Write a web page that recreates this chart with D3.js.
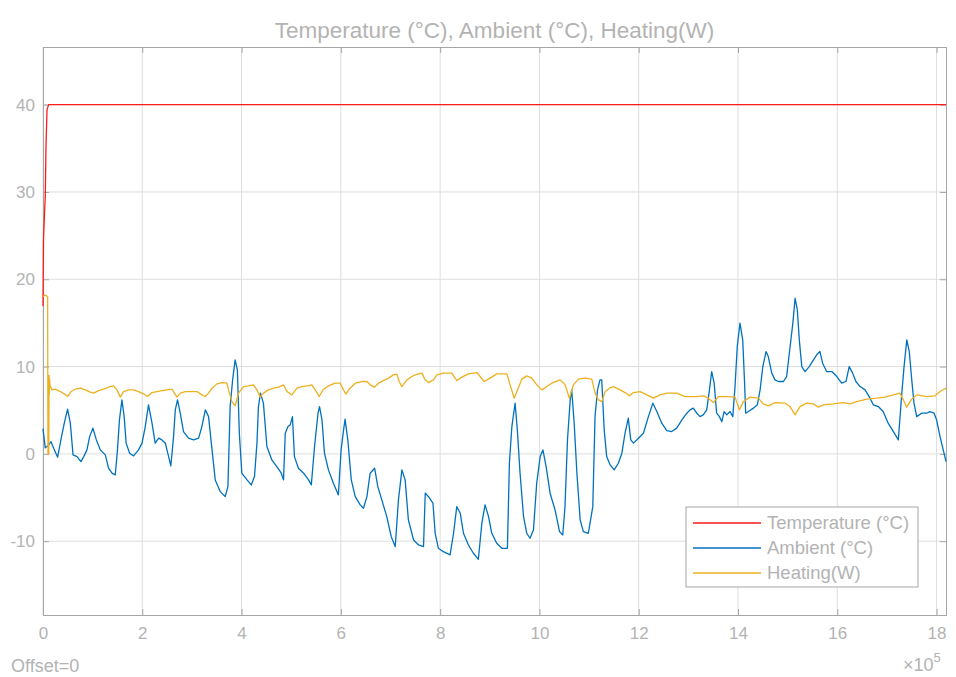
<!DOCTYPE html>
<html>
<head>
<meta charset="utf-8">
<script src="https://cdn.jsdelivr.net/npm/d3@7"></script>
<style>
  body { margin: 0; background: #fff; }
  svg text { font-family: "Liberation Sans", Arial, Helvetica, sans-serif; fill: #b3b3b3; }
</style>
</head>
<body>
<div id="chart"></div>
<script>
// x values are in units of 1e5 (axis shows x10^5)
var seriesNames = ['Temperature (°C)', 'Ambient (°C)', 'Heating(W)'];
var xTicks = [0, 2, 4, 6, 8, 10, 12, 14, 16, 18];
var yTicks = [-10, 0, 10, 20, 30, 40];

var tempT = [0, 0.01, 0.03, 0.046, 0.06, 0.081, 0.113, 18.19];
var tempV = [16.9, 24.5, 27.5, 29.5, 35.2, 39.4, 40, 40];

var ambT = [
  0, 0.045, 0.115, 0.16, 0.215, 0.295, 0.36, 0.43, 0.495, 0.55,
  0.605, 0.685, 0.765, 0.82, 0.885, 0.94, 1.005, 1.075, 1.155, 1.255,
  1.32, 1.39, 1.455, 1.5, 1.54, 1.59, 1.635, 1.675, 1.745, 1.825,
  1.925, 1.995, 2.06, 2.125, 2.195, 2.26, 2.33, 2.395, 2.465, 2.53,
  2.575, 2.63, 2.665, 2.71, 2.765, 2.83, 2.93, 3.035, 3.135, 3.2,
  3.27, 3.335, 3.405, 3.47, 3.57, 3.67, 3.725, 3.77, 3.82, 3.87,
  3.915, 3.955, 4.005, 4.11, 4.195, 4.26, 4.31, 4.34, 4.38, 4.44,
  4.51, 4.61, 4.71, 4.8, 4.845, 4.88, 4.935, 4.98, 5.025, 5.065,
  5.145, 5.25, 5.35, 5.405, 5.47, 5.54, 5.57, 5.62, 5.67, 5.75,
  5.85, 5.95, 6.005, 6.055, 6.085, 6.14, 6.21, 6.29, 6.39, 6.455,
  6.525, 6.59, 6.68, 6.745, 6.825, 6.925, 7.015, 7.095, 7.16, 7.23,
  7.295, 7.36, 7.465, 7.565, 7.665, 7.7, 7.765, 7.855, 7.9, 7.965,
  8.065, 8.2, 8.27, 8.335, 8.405, 8.47, 8.57, 8.67, 8.77, 8.84,
  8.905, 8.975, 9.04, 9.14, 9.245, 9.355, 9.395, 9.445, 9.51, 9.555,
  9.61, 9.68, 9.745, 9.81, 9.88, 9.945, 10.015, 10.07, 10.135, 10.215,
  10.315, 10.405, 10.47, 10.515, 10.565, 10.62, 10.65, 10.7, 10.755, 10.82,
  10.885, 10.985, 11.075, 11.12, 11.17, 11.22, 11.255, 11.305, 11.355, 11.425,
  11.505, 11.59, 11.66, 11.725, 11.79, 11.84, 11.895, 11.995, 12.095, 12.195,
  12.285, 12.365, 12.465, 12.565, 12.665, 12.765, 12.87, 12.97, 13.035, 13.1,
  13.17, 13.235, 13.3, 13.37, 13.425, 13.47, 13.52, 13.57, 13.625, 13.675,
  13.72, 13.775, 13.84, 13.895, 13.94, 13.985, 14.04, 14.095, 14.13, 14.155,
  14.21, 14.31, 14.39, 14.445, 14.5, 14.565, 14.61, 14.68, 14.745, 14.815,
  14.915, 14.98, 15.05, 15.105, 15.15, 15.195, 15.235, 15.285, 15.35, 15.435,
  15.52, 15.585, 15.65, 15.705, 15.785, 15.89, 15.99, 16.09, 16.175, 16.24,
  16.31, 16.375, 16.46, 16.56, 16.66, 16.725, 16.825, 16.925, 17.025, 17.13,
  17.23, 17.3, 17.345, 17.4, 17.45, 17.5, 17.545, 17.6, 17.7, 17.8,
  17.865, 17.95, 18.0, 18.07, 18.15, 18.19
];
var ambV = [
  2.9, 0.69, 1.03, 1.41, 0.65, -0.38, 1.60, 3.55, 5.12, 3.55,
  -0.11, -0.31, -0.88, -0.31, 0.46, 1.98, 2.95, 1.60, 0.46, -0.11,
  -1.64, -2.21, -2.41, 0.46, 3.90, 6.19, 4.27, 1.23, 0.08, -0.23,
  0.46, 1.23, 3.13, 5.62, 3.55, 1.23, 1.80, 1.60, 1.23, -0.31,
  -1.38, 1.98, 5.04, 6.19, 4.66, 2.56, 1.80, 1.60, 1.80, 3.13,
  5.04, 4.27, 0.46, -2.98, -4.32, -4.89, -3.75, 5.42, 8.48, 10.77,
  9.63, 2.37, -2.21, -2.98, -3.55, -2.60, 1.23, 5.42, 6.96, 5.81,
  0.84, -0.69, -1.46, -2.21, -2.98, 2.37, 3.13, 3.32, 4.27, -0.31,
  -1.64, -2.21, -2.98, -3.55, 0.84, 4.66, 5.42, 3.90, 0.08, -1.83,
  -3.36, -4.70, 0.46, 2.75, 3.98, 1.60, -2.98, -4.89, -5.84, -6.22,
  -4.89, -2.21, -1.64, -3.75, -5.27, -7.19, -9.48, -10.62, -5.27, -1.83,
  -2.98, -7.54, -9.86, -10.43, -10.62, -4.50, -4.89, -5.65, -9.09, -10.81,
  -11.20, -11.57, -9.09, -6.04, -6.80, -9.09, -10.43, -11.38, -12.07, -7.94,
  -5.84, -7.19, -9.09, -10.23, -10.81, -10.81, -1.07, 3.13, 5.81, 2.75,
  -2.21, -7.19, -9.09, -9.66, -8.71, -3.36, -0.31, 0.46, -1.46, -4.50,
  -6.42, -8.90, -9.28, -6.04, 1.60, 6.19, 7.33, 3.52, -2.21, -7.54,
  -8.90, -9.09, -6.04, 4.27, 7.33, 8.48, 8.48, 2.75, -0.31, -1.26,
  -1.83, -1.07, 0.08, 2.37, 4.09, 1.60, 1.23, 1.80, 2.37, 4.27,
  5.81, 4.85, 3.52, 2.67, 2.56, 2.95, 3.90, 4.66, 5.04, 5.24,
  4.66, 4.27, 4.47, 5.04, 7.33, 9.43, 8.10, 4.66, 4.27, 3.70,
  4.85, 4.47, 4.85, 4.27, 7.71, 12.30, 14.98, 13.06, 8.48, 4.66,
  4.85, 5.24, 5.62, 7.33, 10.00, 11.72, 11.15, 9.25, 8.48, 8.29,
  8.29, 8.86, 12.30, 14.98, 17.84, 16.50, 13.06, 10.00, 9.43, 10.00,
  10.77, 11.35, 11.72, 10.39, 9.43, 9.43, 8.86, 8.10, 8.29, 10.00,
  9.25, 8.29, 7.71, 7.33, 6.38, 5.62, 5.42, 4.85, 3.52, 2.56,
  1.60, 6.96, 10.00, 13.06, 11.72, 8.48, 5.81, 4.27, 4.66, 4.66,
  4.85, 4.66, 3.90, 1.98, 0.08, -0.88
];

var heatT = [
  0, 0.046, 0.093, 0.10, 0.117, 0.122, 0.127, 0.133, 0.14, 0.181,
  0.248, 0.348, 0.429, 0.495, 0.564, 0.650, 0.751, 0.852, 0.952, 1.019,
  1.120, 1.220, 1.321, 1.422, 1.490, 1.557, 1.623, 1.724, 1.824, 1.925,
  2.026, 2.106, 2.195, 2.296, 2.396, 2.497, 2.598, 2.698, 2.765, 2.865,
  2.966, 3.101, 3.202, 3.268, 3.335, 3.403, 3.504, 3.605, 3.705, 3.737,
  3.806, 3.872, 3.939, 4.039, 4.140, 4.241, 4.309, 4.376, 4.442, 4.543,
  4.644, 4.744, 4.845, 4.913, 5.014, 5.115, 5.215, 5.316, 5.417, 5.483,
  5.564, 5.650, 5.751, 5.886, 5.987, 6.053, 6.102, 6.168, 6.289, 6.424,
  6.524, 6.591, 6.677, 6.758, 6.859, 6.959, 7.060, 7.129, 7.175, 7.229,
  7.330, 7.431, 7.497, 7.632, 7.698, 7.765, 7.866, 7.934, 8.067, 8.236,
  8.337, 8.437, 8.570, 8.739, 8.806, 8.886, 9.007, 9.142, 9.344, 9.410,
  9.491, 9.557, 9.646, 9.746, 9.847, 9.948, 10.048, 10.149, 10.250, 10.417,
  10.518, 10.604, 10.685, 10.785, 10.920, 11.055, 11.122, 11.188, 11.257, 11.323,
  11.410, 11.490, 11.625, 11.726, 11.812, 11.893, 12.028, 12.163, 12.296, 12.430,
  12.566, 12.767, 12.934, 13.170, 13.303, 13.403, 13.504, 13.605, 13.774, 13.941,
  14.028, 14.108, 14.243, 14.410, 14.511, 14.611, 14.746, 14.948, 15.048, 15.149,
  15.249, 15.385, 15.517, 15.618, 15.719, 15.920, 16.122, 16.256, 16.391, 16.593,
  16.794, 16.961, 17.128, 17.263, 17.330, 17.398, 17.499, 17.600, 17.801, 17.968,
  18.069, 18.19
];
var heatV = [
  18.0, 18.2, 18.0, 0, 0, 9.0, 6.8, 8.6, 7.9, 7.33,
  7.41, 7.14, 6.88, 6.57, 7.14, 7.41, 7.53, 7.33, 7.07, 6.96,
  7.25, 7.41, 7.64, 7.79, 7.33, 6.50, 7.14, 7.33, 7.33, 7.14,
  6.88, 6.57, 7.02, 7.14, 7.25, 7.33, 7.41, 6.50, 6.96, 7.14,
  7.14, 7.14, 6.76, 6.57, 6.96, 7.53, 8.02, 8.17, 8.10, 7.33,
  5.99, 5.50, 6.96, 7.71, 7.79, 7.91, 7.33, 6.50, 6.96, 7.33,
  7.53, 7.64, 7.91, 7.14, 6.76, 7.53, 7.71, 7.79, 7.91, 7.33,
  6.57, 7.41, 7.79, 8.10, 8.10, 7.33, 6.84, 7.41, 8.10, 8.29,
  8.29, 7.91, 7.64, 8.10, 8.40, 8.68, 9.05, 9.13, 8.29, 7.71,
  8.48, 8.86, 9.05, 9.25, 8.48, 8.17, 8.48, 9.05, 9.25, 9.25,
  8.40, 8.79, 9.17, 9.32, 8.86, 8.29, 8.68, 9.17, 9.17, 7.91,
  6.38, 7.33, 8.56, 8.94, 8.68, 7.91, 7.33, 7.71, 8.10, 8.48,
  7.91, 6.38, 7.91, 8.56, 8.68, 8.56, 6.96, 6.19, 5.99, 7.14,
  7.53, 7.71, 7.33, 7.02, 6.65, 7.02, 7.14, 6.76, 6.38, 6.76,
  6.96, 6.96, 6.57, 6.57, 6.65, 6.38, 5.88, 6.57, 6.57, 6.50,
  5.04, 5.99, 6.50, 6.38, 5.73, 5.50, 5.88, 5.81, 5.42, 4.47,
  5.42, 5.81, 5.73, 5.35, 5.62, 5.73, 5.88, 5.73, 5.99, 6.27,
  6.38, 6.50, 6.76, 6.96, 6.19, 5.35, 6.27, 6.76, 6.57, 6.65,
  7.14, 7.53
];

var colors = ['#ff1a1a', '#0072bd', '#edb120'];

var W = 956, H = 677;
var margin = {top: 47, right: 10, bottom: 62, left: 43};
var iw = W - margin.left - margin.right,
    ih = H - margin.top - margin.bottom;

var svg = d3.select('#chart').append('svg')
    .attr('width', W)
    .attr('height', H);

var x = d3.scaleLinear().domain([0, 18.19]).range([0, iw]);
var y = d3.scaleLinear().domain([-18.45, 46.6]).range([ih, 0]);

var g = svg.append('g')
    .attr('transform', 'translate(' + margin.left + ',' + margin.top + ')');

// grid
g.append('g').selectAll('line').data(xTicks).enter().append('line')
    .attr('x1', function(d) { return x(d); }).attr('x2', function(d) { return x(d); })
    .attr('y1', 0).attr('y2', ih)
    .attr('stroke', '#dedede').attr('stroke-width', 1);
g.append('g').selectAll('line').data(yTicks).enter().append('line')
    .attr('y1', function(d) { return y(d); }).attr('y2', function(d) { return y(d); })
    .attr('x1', 0).attr('x2', iw)
    .attr('stroke', '#dedede').attr('stroke-width', 1);

// axes (ticks inside, matlab style)
var fmt = function(d) { return String(d); };
var xAxis = d3.axisBottom(x).tickValues(xTicks).tickSize(-6).tickPadding(12).tickFormat(fmt);
var yAxis = d3.axisLeft(y).tickValues(yTicks).tickSize(-6).tickPadding(8).tickFormat(fmt);

var gx = g.append('g').attr('transform', 'translate(0,' + ih + ')').call(xAxis);
var gy = g.append('g').call(yAxis);
g.append('g').call(d3.axisTop(x).tickValues(xTicks).tickSize(-6).tickFormat(''));
g.append('g').attr('transform', 'translate(' + iw + ',0)')
    .call(d3.axisRight(y).tickValues(yTicks).tickSize(-6).tickFormat(''));

g.selectAll('.domain').attr('stroke', '#a6a6a6');
g.selectAll('.tick line').attr('stroke', '#a6a6a6');
g.selectAll('.tick text').style('font-size', '17px').attr('fill', '#b3b3b3');
gx.selectAll('.tick text').attr('dy', '0.71em');

// lines
var line = d3.line()
    .x(function(d) { return x(d[0]); })
    .y(function(d) { return y(d[1]); });

var series = [
  d3.zip(tempT, tempV),
  d3.zip(ambT, ambV),
  d3.zip(heatT, heatV)
];

series.forEach(function(s, i) {
  g.append('path')
    .datum(s)
    .attr('fill', 'none')
    .attr('stroke', colors[i])
    .attr('stroke-width', 1.3)
    .attr('stroke-linejoin', 'round')
    .attr('d', line);
});

// title
svg.append('text')
    .attr('x', margin.left + iw / 2).attr('y', 38)
    .attr('text-anchor', 'middle')
    .style('font-size', '22.5px')
    .text(seriesNames.join(', '));

// offset + exponent
svg.append('text').attr('x', 11).attr('y', 672).style('font-size', '18px').text('Offset=0');
var ex = svg.append('text').attr('x', 903).attr('y', 671).style('font-size', '18px');
ex.append('tspan').text('\u00d710');
ex.append('tspan').attr('dy', -9).style('font-size', '13px').text('5');

// legend
var leg = svg.append('g').attr('transform', 'translate(686,507)');
leg.append('rect').attr('width', 232).attr('height', 80)
    .attr('fill', '#fff').attr('stroke', '#a6a6a6').attr('stroke-width', 1);
seriesNames.forEach(function(name, i) {
  var yy = 16 + i * 25;
  leg.append('line').attr('x1', 7).attr('x2', 75).attr('y1', yy).attr('y2', yy)
      .attr('stroke', colors[i]).attr('stroke-width', 1.4);
  leg.append('text').attr('x', 81).attr('y', yy + 6).style('font-size', '18.5px').text(name);
});
</script>
</body>
</html>
